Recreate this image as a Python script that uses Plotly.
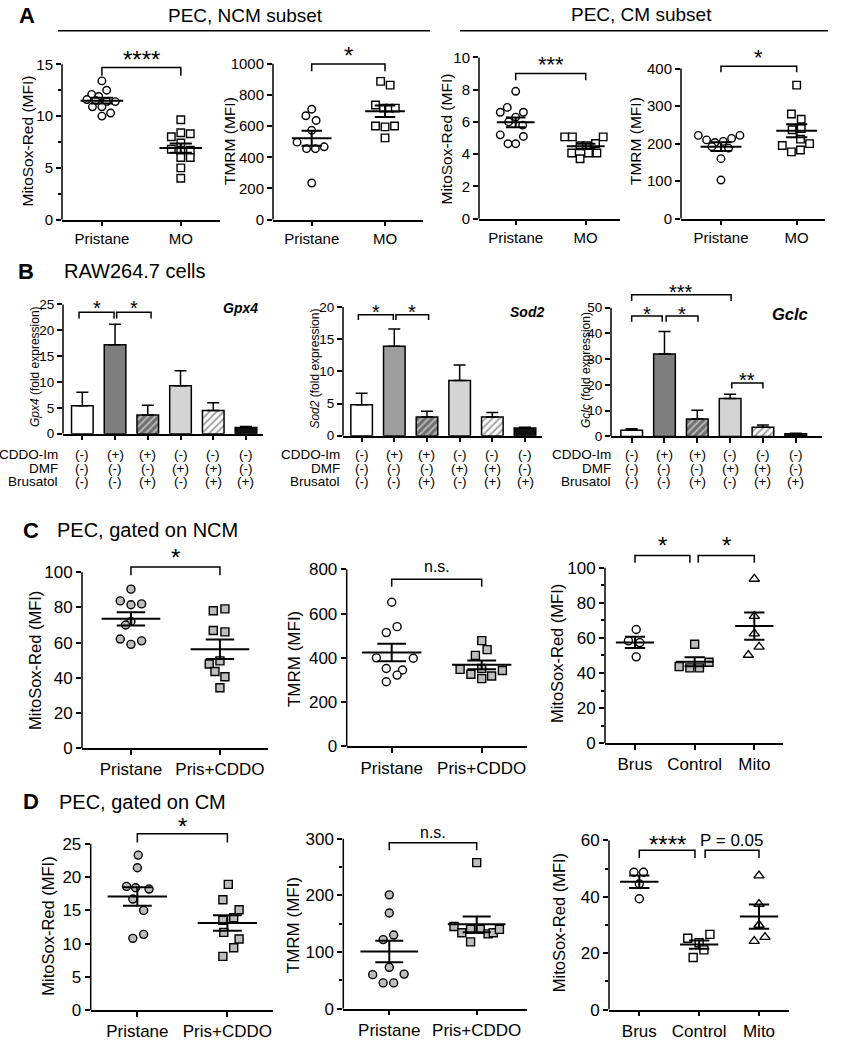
import numpy as np
import plotly.graph_objects as go

W, H = 841, 1050
FONT = "Arial, Liberation Sans, sans-serif"

# ======================= DATA =======================
# ---- Panel A : PEC, NCM subset / CM subset ----
a_groups = ["Pristane", "MO"]
a1_pristane = [13.4, 12.5, 12.1, 11.9, 11.6, 11.5, 11.4, 11.4, 10.9, 10.9, 10.3, 10.0]
a1_pristane_dx = [0.0, 0.06, -0.13, -0.04, -0.19, -0.08, 0.06, 0.17, -0.12, 0.0, 0.11, 0.0]
a1_mo = [9.65, 8.4, 8.3, 8.0, 7.4, 6.8, 6.7, 6.7, 6.0, 6.0, 5.0, 4.0]
a1_mo_dx = [0.0, 0.0, 0.12, -0.12, 0.0, -0.12, 0.0, 0.12, 0.0, 0.12, 0.0, 0.0]

a2_pristane = [708, 666, 636, 573, 497, 455, 455, 467, 235]
a2_pristane_dx = [0.0, -0.08, 0.06, 0.0, -0.2, -0.07, 0.05, 0.17, 0.0]
a2_mo = [886, 862, 735, 715, 715, 715, 600, 595, 600, 524]
a2_mo_dx = [-0.06, 0.07, -0.13, -0.02, 0.06, 0.14, -0.13, 0.0, 0.13, 0.0]

a3_pristane = [7.9, 6.9, 6.6, 6.6, 6.3, 6.0, 5.8, 5.2, 5.1, 4.65, 4.65]
a3_pristane_dx = [0.0, -0.12, 0.11, -0.22, 0.0, -0.1, 0.1, -0.22, 0.11, -0.11, 0.0]
a3_mo = [5.07, 5.07, 5.07, 4.52, 4.52, 4.66, 4.07, 4.07, 4.07, 3.72]
a3_mo_dx = [-0.3, -0.19, 0.25, -0.08, 0.01, 0.14, -0.2, 0.04, 0.16, -0.08]

a4_pristane = [222, 210, 203, 206, 214, 222, 192, 188, 160, 103]
a4_pristane_dx = [-0.3, -0.19, -0.08, 0.03, 0.14, 0.25, -0.12, 0.1, 0.0, 0.0]
a4_mo = [356, 279, 265, 237, 240, 212, 195, 178, 200, 183]
a4_mo_dx = [0.0, -0.07, 0.06, -0.06, 0.06, 0.05, -0.19, -0.07, 0.17, 0.05]

# ---- Panel B : RAW264.7 cells, fold expression (mean, +SEM) ----
b_cddo = ["(-)", "(+)", "(+)", "(-)", "(-)", "(-)"]
b_dmf = ["(-)", "(-)", "(-)", "(+)", "(+)", "(-)"]
b_brus = ["(-)", "(-)", "(+)", "(-)", "(+)", "(+)"]
b_gpx4 = [5.4, 17.2, 3.6, 9.3, 4.5, 1.2]
b_gpx4_err = [2.6, 4.0, 1.9, 2.9, 1.5, 0.2]
b_sod2 = [4.8, 13.9, 2.9, 8.6, 2.9, 1.2]
b_sod2_err = [1.8, 2.7, 0.9, 2.4, 0.7, 0.1]
b_gclc = [2.4, 32.0, 6.8, 14.7, 3.6, 1.0]
b_gclc_err = [0.6, 8.8, 3.4, 1.7, 0.8, 0.2]

# ---- Panel C : PEC, gated on NCM ----
cd_groups = ["Pristane", "Pris+CDDO"]
c3_groups = ["Brus", "Control", "Mito"]
c1_pristane = [90.4, 83.7, 81.5, 82.0, 72.0, 70.0, 62.0, 59.0, 61.0]
c1_pristane_dx = [0.0, -0.12, 0.0, 0.12, 0.0, -0.06, -0.12, 0.0, 0.12]
c1_cddo = [78.1, 79.2, 66.9, 66.1, 47.8, 49.6, 43.6, 40.6, 34.3]
c1_cddo_dx = [-0.075, 0.056, -0.075, 0.056, -0.12, 0.0, -0.056, 0.056, 0.0]

c2_pristane = [651, 541, 514, 400, 398, 352, 345, 322, 292]
c2_pristane_dx = [0.0, 0.06, -0.06, -0.17, 0.24, -0.06, 0.12, 0.06, -0.06]
c2_cddo = [478, 437, 411, 348, 326, 352, 306, 318, 343]
c2_cddo_dx = [0.0, 0.06, -0.07, -0.24, -0.12, 0.0, 0.0, 0.11, 0.23]

c3_brus = [64.8, 58.3, 57.3, 49.2]
c3_brus_dx = [0.02, -0.11, 0.08, 0.02]
c3_control = [56.4, 43.6, 42.9, 42.9, 46.1]
c3_control_dx = [0.0, -0.26, -0.08, 0.08, 0.24]
c3_mito = [93.6, 72.4, 62.4, 50.2, 54.9]
c3_mito_dx = [0.0, 0.0, 0.0, -0.1, 0.08]

# ---- Panel D : PEC, gated on CM ----
d1_pristane = [23.3, 21.4, 18.6, 18.4, 18.2, 16.7, 15.0, 10.8, 11.4]
d1_pristane_dx = [0.01, 0.0, -0.12, -0.02, 0.13, -0.05, 0.07, -0.05, 0.07]
d1_cddo = [18.9, 16.6, 15.1, 13.9, 13.5, 11.7, 10.7, 9.4, 8.1]
d1_cddo_dx = [0.01, -0.05, 0.13, 0.07, -0.05, -0.04, 0.13, 0.07, -0.05]

d2_pristane = [201, 169, 130, 122, 73, 60, 61, 45.5, 45.5]
d2_pristane_dx = [0.0, 0.0, 0.05, -0.07, 0.0, -0.19, 0.17, -0.07, 0.05]
d2_cddo = [258, 145, 134, 140, 140, 132, 134, 140, 118]
d2_cddo_dx = [0.0, -0.26, -0.17, -0.07, 0.04, 0.13, 0.19, 0.26, -0.07]

d3_brus = [48.7, 48.7, 44.6, 39.3]
d3_brus_dx = [-0.09, 0.07, 0.0, 0.0]
d3_control = [25.3, 26.7, 23.7, 21.2, 18.5]
d3_control_dx = [-0.19, 0.18, 0.0, 0.08, -0.1]
d3_mito = [47.5, 37.4, 30.0, 24.3, 25.7]
d3_mito_dx = [0.0, 0.0, 0.0, -0.08, 0.1]

# ======================= BUILD =======================
layout_axes = {}
shapes = []
annotations = []
traces = []
BLACK = "black"


def sfx(n):
    return "" if n == 1 else str(n)


def P(x, y):
    return x / W, 1 - y / H


def make_axes(n, x0, x1, y0, ytop_px, ytop_val, head, xrange, yticks, xticks,
              xtext, tfs, cfs, minor=None, show_xlabels=True):
    s = sfx(n)
    scale = (y0 - ytop_px) / ytop_val
    rtop = ytop_val + head / scale
    layout_axes["xaxis" + s] = dict(
        domain=[x0 / W, x1 / W], range=list(xrange), anchor="y" + s,
        showline=True, linecolor=BLACK, linewidth=1.5, ticks="outside",
        ticklen=5, tickwidth=1.5, tickcolor=BLACK, tickmode="array",
        tickvals=xticks, ticktext=xtext, showticklabels=show_xlabels,
        tickfont=dict(family=FONT, size=cfs, color=BLACK),
        showgrid=False, zeroline=False)
    ya = dict(
        domain=[1 - y0 / H, 1 - (ytop_px - head) / H], range=[0, rtop],
        anchor="x" + s, showline=False, ticks="outside", ticklen=5,
        tickwidth=1.5, tickcolor=BLACK, tickmode="array", tickvals=yticks,
        tickfont=dict(family=FONT, size=tfs, color=BLACK),
        showgrid=False, zeroline=False)
    if minor:
        ya["minor"] = dict(tickmode="array", tickvals=minor, ticks="outside",
                           ticklen=3, tickwidth=1.5, tickcolor=BLACK,
                           showgrid=False)
    layout_axes["yaxis" + s] = ya
    shapes.append(dict(type="line", xref="x" + s + " domain", yref="y" + s,
                       x0=0, x1=0, y0=0, y1=ytop_val,
                       line=dict(color=BLACK, width=1.5)))


def dot_group(n, gi, vals, dx, symbol, fill, size=7, mean_hw=0.3, cap_hw=0.15):
    s = sfx(n)
    v = np.asarray(vals, float)
    x = gi + np.asarray(dx, float)
    traces.append(go.Scatter(
        x=x, y=v, mode="markers", xaxis="x" + s, yaxis="y" + s,
        marker=dict(symbol=symbol, size=size, color=fill,
                    line=dict(color=BLACK, width=1.4)),
        showlegend=False, cliponaxis=False))
    m = v.mean()
    se = v.std(ddof=1) / np.sqrt(len(v))
    xs = [gi - mean_hw, gi + mean_hw, None, gi - cap_hw, gi + cap_hw, None,
          gi - cap_hw, gi + cap_hw, None, gi, gi]
    ys = [m, m, None, m + se, m + se, None, m - se, m - se, None, m - se, m + se]
    traces.append(go.Scatter(x=xs, y=ys, mode="lines", xaxis="x" + s,
                             yaxis="y" + s, line=dict(color=BLACK, width=2),
                             showlegend=False, hoverinfo="skip"))


def bracket(n, xa, xb, ytop, ybot, label, fs, gap, star=True):
    s = sfx(n)
    shapes.append(dict(type="path", xref="x" + s, yref="y" + s,
                       path=f"M {xa},{ybot} L {xa},{ytop} L {xb},{ytop} L {xb},{ybot}",
                       line=dict(color=BLACK, width=1.5)))
    annotations.append(dict(x=(xa + xb) / 2, y=ytop, xref="x" + s, yref="y" + s,
                            text=label, showarrow=False, xanchor="center",
                            yanchor="middle",
                            yshift=gap - (0.22 * fs if star else 0),
                            font=dict(family=FONT, size=fs, color=BLACK)))


def text(x, y, t, size, xanchor="center", angle=0, bold=False, italic=False):
    if italic:
        t = f"<i>{t}</i>"
    if bold:
        t = f"<b>{t}</b>"
    px, py = P(x, y)
    annotations.append(dict(x=px, y=py, xref="paper", yref="paper", text=t,
                            showarrow=False, xanchor=xanchor, yanchor="middle",
                            textangle=angle,
                            font=dict(family=FONT, size=size, color=BLACK)))


def bar_panel(n, vals, errs, colors, pshape, pfg):
    s = sfx(n)
    traces.append(go.Bar(
        x=list(range(len(vals))), y=vals, width=0.66, xaxis="x" + s, yaxis="y" + s,
        marker=dict(color=colors, line=dict(color=BLACK, width=1.5),
                    pattern=dict(shape=pshape, fgcolor=pfg,
                                 size=5, solidity=0.4, fillmode="overlay")),
        error_y=dict(type="data", array=errs, arrayminus=[0] * len(vals),
                     symmetric=False, color=BLACK, thickness=1.5, width=6),
        showlegend=False))


def cond_table(n, label_right, rows_y, size=13.5):
    s = sfx(n)
    for lab, vals, y in zip(["CDDO-Im", "DMF", "Brusatol"],
                            [b_cddo, b_dmf, b_brus], rows_y):
        text(label_right, y, lab, size, xanchor="right")
        for i, v in enumerate(vals):
            annotations.append(dict(x=i, y=1 - y / H, xref="x" + s, yref="paper",
                                    text=v, showarrow=False, xanchor="center",
                                    yanchor="middle",
                                    font=dict(family=FONT, size=size, color=BLACK)))


# ---------------- Panel A ----------------
make_axes(1, 62, 220, 221, 64, 15, 10, (-0.506, 1.497), [0, 5, 10, 15], [0, 1],
          a_groups, 15, 15, minor=[2.5, 7.5, 12.5])
make_axes(2, 273, 423, 221, 63.3, 1000, 10, (-0.528, 1.518),
          [0, 200, 400, 600, 800, 1000], [0, 1], a_groups, 15, 15)
make_axes(3, 479, 620, 220, 57, 10, 10, (-0.524, 1.49), [0, 2, 4, 6, 8, 10],
          [0, 1], a_groups, 15, 15)
make_axes(4, 681, 825, 220, 68.3, 400, 10, (-0.528, 1.374),
          [0, 100, 200, 300, 400], [0, 1], a_groups, 15, 15)

for n, pri, pdx, mo, mdx in [(1, a1_pristane, a1_pristane_dx, a1_mo, a1_mo_dx),
                             (2, a2_pristane, a2_pristane_dx, a2_mo, a2_mo_dx),
                             (3, a3_pristane, a3_pristane_dx, a3_mo, a3_mo_dx),
                             (4, a4_pristane, a4_pristane_dx, a4_mo, a4_mo_dx)]:
    dot_group(n, 0, pri, pdx, "circle", "white", size=7.5, mean_hw=0.27, cap_hw=0.14)
    dot_group(n, 1, mo, mdx, "square", "white", size=7.5, mean_hw=0.27, cap_hw=0.14)

bracket(1, 0, 1, 14.7, 13.9, "****", 24, 13)
bracket(2, 0, 1, 998, 951, "*", 24, 13.3)
bracket(3, 0, 1, 9.0, 8.59, "***", 22, 14)
bracket(4, 0, 1, 406, 390, "*", 22, 13.4)

text(27, 15, "A", 22, bold=True)
text(245, 15, "PEC, NCM subset", 19)
text(641, 14, "PEC, CM subset", 19)
shapes.append(dict(type="line", xref="paper", yref="paper", x0=58 / W, x1=430 / W,
                   y0=1 - 30 / H, y1=1 - 30 / H, line=dict(color=BLACK, width=1.5)))
shapes.append(dict(type="line", xref="paper", yref="paper", x0=460 / W, x1=828 / W,
                   y0=1 - 30 / H, y1=1 - 30 / H, line=dict(color=BLACK, width=1.5)))
text(28, 142, "MitoSox-Red (MFI)", 15.5, angle=-90)
text(229.5, 142, "TMRM (MFI)", 15.5, angle=-90)
text(447, 140, "MitoSox-Red (MFI)", 15.5, angle=-90)
text(635.5, 142, "TMRM (MFI)", 15.5, angle=-90)

# ---------------- Panel B ----------------
hatch = ["", "", "/", "", "/", ""]
hatch_fg = ["black", "black", "#1a1a1a", "black", "#4d4d4d", "black"]

make_axes(5, 63, 263, 437.3, 306.7, 25, 8, (-0.59, 5.52), [0, 5, 10, 15, 20, 25],
          list(range(6)), None, 13.5, 13.5, show_xlabels=False)
make_axes(6, 343, 542, 439.3, 309.3, 20, 8, (-0.57, 5.52), [0, 5, 10, 15, 20],
          list(range(6)), None, 13.5, 13.5, show_xlabels=False)
make_axes(7, 611, 822, 440, 310, 50, 18, (-0.63, 5.8), [0, 10, 20, 30, 40, 50],
          list(range(6)), None, 13.5, 13.5, show_xlabels=False)

bar_panel(5, b_gpx4, b_gpx4_err,
          ["white", "#7f7f7f", "#6e6e6e", "#d4d4d4", "white", "#111111"],
          hatch, hatch_fg)
bar_panel(6, b_sod2, b_sod2_err,
          ["white", "#9d9d9d", "#6e6e6e", "#d4d4d4", "white", "#111111"],
          hatch, hatch_fg)
bar_panel(7, b_gclc, b_gclc_err,
          ["white", "#7f7f7f", "#6e6e6e", "#d4d4d4", "white", "#111111"],
          hatch, hatch_fg)

bracket(5, -0.1, 0.97, 23.5, 22.3, "*", 20, 8.3)
bracket(5, 1.05, 2.1, 23.5, 22.3, "*", 20, 8.3)
bracket(6, -0.1, 0.97, 18.8, 18.0, "*", 20, 7.4)
bracket(6, 1.05, 2.05, 18.8, 18.0, "*", 20, 7.4)
bracket(7, 0.0, 0.93, 46.8, 44.6, "*", 20, 6.7)
bracket(7, 1.05, 2.02, 46.8, 44.6, "*", 20, 6.7)
bracket(7, 0.0, 3.03, 55.1, 52.6, "***", 20, 7.4)
bracket(7, 3.05, 4.0, 20.8, 18.6, "**", 20, 7.7)

text(26, 273, "B", 22, bold=True)
text(62, 273, "RAW264.7 cells", 20, xanchor="left")
text(35, 370, "<i>Gpx4</i> (fold expression)", 12, angle=-90)
text(315.5, 372, "<i>Sod2</i> (fold expression)", 12, angle=-90)
text(586, 373, "<i>Gclc</i> (fold expression)", 12, angle=-90)
text(240, 310, "Gpx4", 14, bold=True, italic=True)
text(527, 314, "Sod2", 14, bold=True, italic=True)
text(789.5, 316, "Gclc", 16.5, bold=True, italic=True)
cond_table(5, 60, [458, 472, 486])
cond_table(6, 342, [458, 472, 486])
cond_table(7, 613, [458, 472, 486])

# ---------------- Panel C ----------------
GRAY = "#bdbdbd"
make_axes(8, 82, 268, 755, 577.3, 100, 12, (-0.55, 1.54), [0, 20, 40, 60, 80, 100],
          [0, 1], cd_groups, 17, 17)
make_axes(9, 346.7, 526.7, 753.3, 574.3, 800, 8, (-0.5, 1.5), [0, 200, 400, 600, 800],
          [0, 1], cd_groups, 17, 17)
make_axes(10, 605, 783.3, 750, 572.7, 100, 16, (-0.503, 2.486),
          [0, 20, 40, 60, 80, 100], [0, 1, 2], c3_groups, 17, 17,
          minor=[10, 30, 50, 70, 90])

dot_group(8, 0, c1_pristane, c1_pristane_dx, "circle", GRAY, size=8, mean_hw=0.33, cap_hw=0.16)
dot_group(8, 1, c1_cddo, c1_cddo_dx, "square", GRAY, size=8, mean_hw=0.33, cap_hw=0.16)
dot_group(9, 0, c2_pristane, c2_pristane_dx, "circle", "white", size=8, mean_hw=0.33, cap_hw=0.16)
dot_group(9, 1, c2_cddo, c2_cddo_dx, "square", GRAY, size=8, mean_hw=0.33, cap_hw=0.16)
dot_group(10, 0, c3_brus, c3_brus_dx, "circle", "white", size=8, mean_hw=0.32, cap_hw=0.17)
dot_group(10, 1, c3_control, c3_control_dx, "square", GRAY, size=8, mean_hw=0.32, cap_hw=0.17)
dot_group(10, 2, c3_mito, c3_mito_dx, "triangle-up", "white", size=9, mean_hw=0.32, cap_hw=0.17)

bracket(8, 0, 1, 103, 98.3, "*", 24, 14.4)
bracket(9, 0, 1, 755, 721, "n.s.", 16, 12.6, star=False)
bracket(10, 0, 0.92, 107, 102.8, "*", 24, 15)
bracket(10, 1.06, 2, 107, 102.8, "*", 24, 15)

text(31, 535, "C", 22, bold=True)
text(55, 535, "PEC, gated on NCM", 20, xanchor="left")
text(35, 667, "MitoSox-Red (MFI)", 16.5, angle=-90)
text(294, 665, "TMRM (MFI)", 17, angle=-90)
text(557, 660, "MitoSox-Red (MFI)", 16.5, angle=-90)

# ---------------- Panel D ----------------
make_axes(11, 90.7, 273.3, 1020, 851.7, 25, 14, (-0.518, 1.51), [0, 5, 10, 15, 20, 25],
          [0, 1], cd_groups, 17, 17)
make_axes(12, 343.3, 526.7, 1018.3, 846.7, 300, 8, (-0.526, 1.572), [0, 100, 200, 300],
          [0, 1], cd_groups, 17, 17, minor=[50, 150, 250])
make_axes(13, 609, 789.3, 1019.3, 848.3, 60, 8, (-0.506, 2.506), [0, 20, 40, 60],
          [0, 1, 2], c3_groups, 17, 17, minor=[10, 30, 50])

dot_group(11, 0, d1_pristane, d1_pristane_dx, "circle", GRAY, size=8, mean_hw=0.33, cap_hw=0.16)
dot_group(11, 1, d1_cddo, d1_cddo_dx, "square", GRAY, size=8, mean_hw=0.33, cap_hw=0.16)
dot_group(12, 0, d2_pristane, d2_pristane_dx, "circle", GRAY, size=8, mean_hw=0.33, cap_hw=0.16)
dot_group(12, 1, d2_cddo, d2_cddo_dx, "square", GRAY, size=8, mean_hw=0.33, cap_hw=0.16)
dot_group(13, 0, d3_brus, d3_brus_dx, "circle", "white", size=8, mean_hw=0.32, cap_hw=0.17)
dot_group(13, 1, d3_control, d3_control_dx, "square", "white", size=8, mean_hw=0.32, cap_hw=0.17)
dot_group(13, 2, d3_mito, d3_mito_dx, "triangle-up", "white", size=9, mean_hw=0.32, cap_hw=0.17)

bracket(11, 0, 1, 26.5, 25.2, "*", 24, 12.4)
bracket(12, 0, 1, 293, 280, "n.s.", 16, 10.7, star=False)
bracket(13, 0, 0.93, 56.5, 53.8, "****", 24, 11)
bracket(13, 1.1, 2.0, 56.5, 53.8, "P = 0.05", 17, 10, star=False)

text(31, 809, "D", 22, bold=True)
text(57, 809, "PEC, gated on CM", 20, xanchor="left")
text(48.5, 935, "MitoSox-Red (MFI)", 16.5, angle=-90)
text(293, 934, "TMRM (MFI)", 17, angle=-90)
text(559, 932, "MitoSox-Red (MFI)", 16.5, angle=-90)

fig = go.Figure(data=traces)
fig.update_layout(width=W, height=H, margin=dict(l=0, r=0, t=0, b=0),
                  paper_bgcolor="white", plot_bgcolor="white",
                  font=dict(family=FONT, color=BLACK), showlegend=False,
                  bargap=0.3, shapes=shapes, annotations=annotations,
                  **layout_axes)
fig.write_html("out.html",
               config={"displayModeBar": False},
               post_script="document.body.style.margin='0px';"
                           "document.body.style.padding='0px';")
